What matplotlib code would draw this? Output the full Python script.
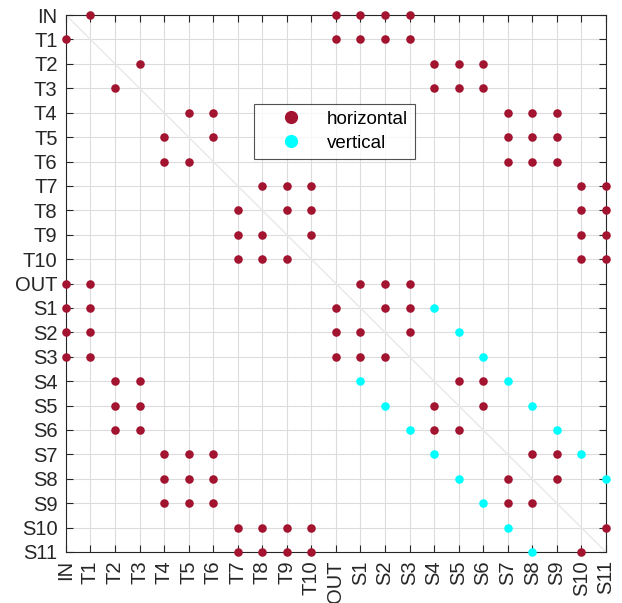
import matplotlib
matplotlib.use("Agg")
import matplotlib.pyplot as plt
from matplotlib.lines import Line2D

plt.rcParams['font.family'] = ['Liberation Sans', 'DejaVu Sans']

labels = ['IN', 'T1', 'T2', 'T3', 'T4', 'T5', 'T6', 'T7', 'T8', 'T9', 'T10',
          'OUT', 'S1', 'S2', 'S3', 'S4', 'S5', 'S6', 'S7', 'S8', 'S9', 'S10', 'S11']

# (row label, column label) pairs
horizontal = {
    'IN':  ['T1', 'OUT', 'S1', 'S2', 'S3'],
    'T1':  ['IN', 'OUT', 'S1', 'S2', 'S3'],
    'T2':  ['T3', 'S4', 'S5', 'S6'],
    'T3':  ['T2', 'S4', 'S5', 'S6'],
    'T4':  ['T5', 'T6', 'S7', 'S8', 'S9'],
    'T5':  ['T4', 'T6', 'S7', 'S8', 'S9'],
    'T6':  ['T4', 'T5', 'S7', 'S8', 'S9'],
    'T7':  ['T8', 'T9', 'T10', 'S10', 'S11'],
    'T8':  ['T7', 'T9', 'T10', 'S10', 'S11'],
    'T9':  ['T7', 'T8', 'T10', 'S10', 'S11'],
    'T10': ['T7', 'T8', 'T9', 'S10', 'S11'],
    'OUT': ['IN', 'T1', 'S1', 'S2', 'S3'],
    'S1':  ['IN', 'T1', 'OUT', 'S2', 'S3'],
    'S2':  ['IN', 'T1', 'OUT', 'S1', 'S3'],
    'S3':  ['IN', 'T1', 'OUT', 'S1', 'S2'],
    'S4':  ['T2', 'T3', 'S5', 'S6'],
    'S5':  ['T2', 'T3', 'S4', 'S6'],
    'S6':  ['T2', 'T3', 'S4', 'S5'],
    'S7':  ['T4', 'T5', 'T6', 'S8', 'S9'],
    'S8':  ['T4', 'T5', 'T6', 'S7', 'S9'],
    'S9':  ['T4', 'T5', 'T6', 'S7', 'S8'],
    'S10': ['T7', 'T8', 'T9', 'T10', 'S11'],
    'S11': ['T7', 'T8', 'T9', 'T10', 'S10'],
}
vertical = {
    'S1':  ['S4'],
    'S2':  ['S5'],
    'S3':  ['S6'],
    'S4':  ['S1', 'S7'],
    'S5':  ['S2', 'S8'],
    'S6':  ['S3', 'S9'],
    'S7':  ['S4', 'S10'],
    'S8':  ['S5', 'S11'],
    'S9':  ['S6'],
    'S10': ['S7'],
    'S11': ['S8'],
}

red = '#A2142F'
cyan = '#00FFFF'
txt = '#262626'

idx = {l: i for i, l in enumerate(labels)}

def to_xy(d):
    xs, ys = [], []
    for r, cols in d.items():
        for c in cols:
            xs.append(idx[c]); ys.append(idx[r])
    return xs, ys

fig = plt.figure(figsize=(6.22, 6.03), dpi=100)
ax = fig.add_axes([0.106, 0.0846, 0.868, 0.8904])

n = len(labels)
ax.plot([0, n - 1], [0, n - 1], color='#e8e8e8', lw=1.0, zorder=1)

hx, hy = to_xy(horizontal)
vx, vy = to_xy(vertical)
ax.scatter(hx, hy, s=38, color=red, zorder=3, clip_on=False, linewidths=0)
ax.scatter(vx, vy, s=38, color=cyan, zorder=3, clip_on=False, linewidths=0)

ax.set_xlim(0, n - 1)
ax.set_ylim(n - 1, 0)
ax.set_xticks(range(n))
ax.set_yticks(range(n))
ax.set_xticklabels(labels, rotation=90, fontsize=14.5, color=txt)
ax.set_yticklabels(labels, fontsize=14.5, color=txt)
ax.tick_params(direction='in', length=5, width=0.8, color=txt, top=True, right=True, pad=6)
ax.grid(True, color='#dcdcdc', lw=0.8, zorder=0)
ax.set_axisbelow(True)
for s in ax.spines.values():
    s.set_color(txt)
    s.set_linewidth(0.8)

handles = [Line2D([], [], ls='none', marker='o', markersize=9.5, color=red, markeredgewidth=0),
           Line2D([], [], ls='none', marker='o', markersize=9.5, color=cyan, markeredgewidth=0)]
leg = ax.legend(handles, ['horizontal', 'vertical'], loc='upper left',
                bbox_to_anchor=(0.348, 0.834), fontsize=13.5, frameon=True, fancybox=False,
                edgecolor=txt, handlelength=3.3, handletextpad=0.25, borderpad=0.35,
                labelspacing=0.37, borderaxespad=0)
leg.get_frame().set_linewidth(0.8)

fig.savefig('out.png', dpi=100)
